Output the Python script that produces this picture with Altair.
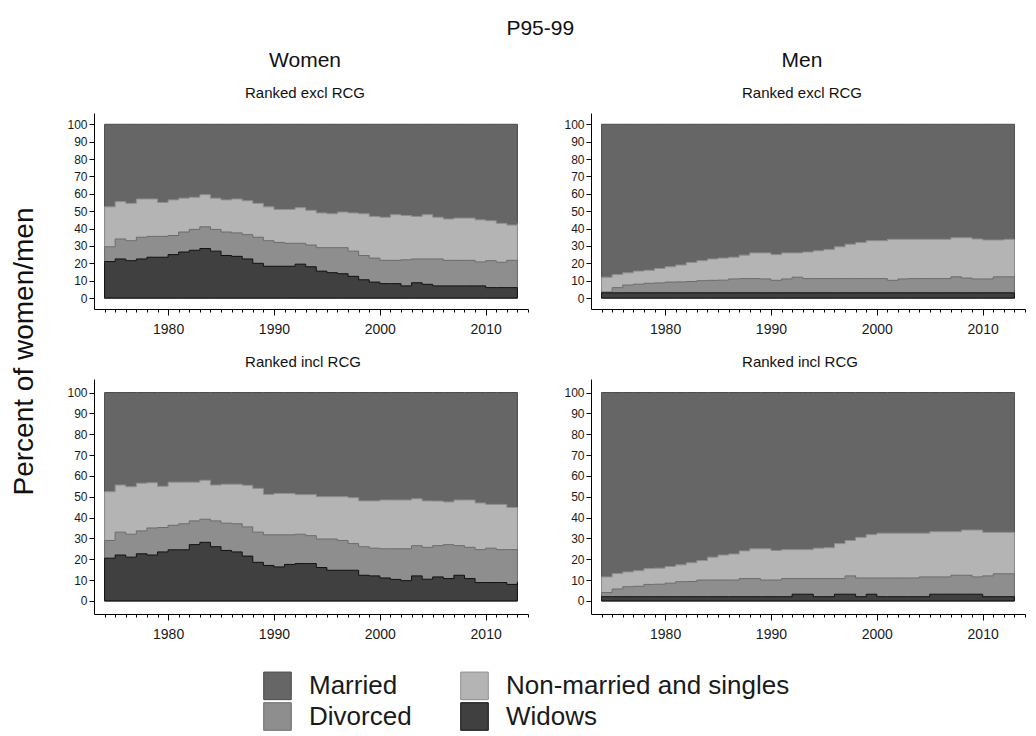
import altair as alt
import pandas as pd

years = list(range(1974, 2014))
categories = ["Married", "Non-married and singles", "Divorced", "Widows"]
legend_order = ["Married", "Divorced", "Non-married and singles", "Widows"]
fill_colors = ["#666666", "#8e8e8e", "#b4b4b4", "#404040"]
line_colors = ["#4a4a4a", "#6c6c6c", "#8f8f8f", "#111111"]

married_top = 100  # shares add up to 100 percent

# Cumulative upper edges (percent), 1974..2013
# Women, ranked excl RCG
w_excl_widows = [21, 22.5, 21.5, 22.5, 23.5, 23.5, 25, 26.5, 27.5, 28.5,
                 27, 24.5, 24, 22.5, 20, 18.3, 18.3, 18.3, 19.5, 18,
                 15.5, 14.6, 14, 12.5, 10.5, 9.2, 8.3, 8.3, 7, 8.8,
                 7.9, 7, 7, 7, 7, 7, 6, 6, 6, 6]
w_excl_divorced = [29.5, 34, 33, 35, 35.5, 35.5, 36, 38, 39.5, 41,
                   39.5, 38, 37.5, 36.5, 35, 33, 32, 31.5, 31.5, 30.5,
                   29, 29, 29, 27, 24.5, 23, 21.7, 21.7, 22, 22.5,
                   22.5, 22.5, 21.7, 21.7, 21.7, 20.8, 21.5, 20.6, 21.7, 21.7]
w_excl_nonmarried = [52.5, 55.5, 54.5, 57, 57, 55, 56.5, 57.5, 58, 59.5,
                     57.5, 56.5, 57, 56, 54.5, 52.5, 51, 51, 52, 50.5,
                     49, 48.5, 49.5, 49, 48.5, 47, 46.5, 48, 47.5, 47,
                     48, 46.5, 45.5, 46, 46, 45, 44.5, 43, 42, 43]

# Men, ranked excl RCG
m_excl_widows = [3, 3, 3, 3, 3, 3, 3, 3, 3, 3,
                 3, 3, 3, 3, 3, 3, 3, 3, 3, 3,
                 3, 3, 3, 3, 3, 3, 3, 3, 3, 3,
                 3, 3, 3, 3, 3, 3, 3, 3, 3, 3]
m_excl_divorced = [3.5, 6, 7.5, 8, 8.5, 8.7, 9.2, 9.3, 9.5, 10,
                   10.2, 10.3, 11, 11.2, 11.2, 11, 10.2, 11, 12, 11.2,
                   11.2, 11.2, 11.2, 11.2, 11.2, 11.2, 11.2, 10.2, 11, 11.2,
                   11.2, 11.2, 11.2, 12.2, 11.5, 11, 11, 12.2, 12.2, 12.2]
m_excl_nonmarried = [12, 13.5, 14.5, 15.5, 16, 17, 18, 19, 20.5, 21.5,
                     22.5, 23, 23.5, 24.7, 26, 26, 25, 26, 26, 26.5,
                     27.2, 28, 29.5, 31, 32, 33, 33, 33.8, 33.8, 33.8,
                     33.8, 33.8, 33.8, 34.7, 34.7, 34, 33.4, 33.4, 33.8, 33]

# Women, ranked incl RCG
w_incl_widows = [20.5, 22, 21, 22.6, 22, 23.5, 24.5, 24.5, 27, 28.1,
                 26, 24.2, 23.5, 21.5, 18.5, 17, 16.3, 17.5, 17.9, 17.9,
                 16, 14.7, 14.7, 14.7, 12.3, 12, 11, 10.3, 9.7, 12,
                 10.4, 11.5, 10.7, 12.3, 10.7, 8.8, 8.8, 8.8, 7.9, 9]
w_incl_divorced = [29, 33, 32, 33.6, 35, 35.2, 36.3, 37, 38.4, 39.2,
                   38.4, 37.3, 37, 35.5, 33, 31.7, 31.7, 31.7, 32, 31.3,
                   29.7, 29.7, 29, 27.5, 26, 25.3, 25, 25, 25, 26.5,
                   25.7, 26.5, 27, 26.5, 25.7, 24.6, 25.3, 24.6, 24.6, 24.6]
w_incl_nonmarried = [52.4, 55.6, 54.8, 56.5, 56.7, 55, 57, 57, 57, 57.9,
                     55.6, 56, 56, 55.5, 54, 51.1, 51.6, 51.6, 51, 51,
                     50, 50, 50, 49.5, 48, 48, 48.4, 48.4, 48.4, 49,
                     48, 47.9, 47.5, 48.4, 48.4, 47, 46.3, 46.3, 44.8, 45]

# Men, ranked incl RCG
m_incl_widows = [2, 2, 2, 2, 2, 2, 2, 2, 2, 2,
                 2, 2, 2, 2, 2, 2, 2, 2, 3.2, 3.2,
                 2, 2, 3.2, 3.2, 2, 3.2, 2, 2, 2, 2,
                 2, 3.2, 3.2, 3.2, 3.2, 3.2, 2, 2, 2, 2]
m_incl_divorced = [4, 5.7, 6.8, 7, 7.9, 8, 8.5, 9.2, 9.3, 10,
                   10, 10, 10, 10.7, 10.7, 10, 10, 10.7, 10.7, 10.7,
                   10.7, 10.7, 10.7, 12, 11, 11, 11, 11, 11, 11,
                   11.5, 11.5, 11.5, 12.3, 12.3, 11.5, 12, 13, 13, 13]
m_incl_nonmarried = [11.5, 13.1, 13.9, 14.5, 15.5, 15.7, 16.5, 17.3, 18.3, 19.4,
                     21, 22, 22.5, 24, 25, 25, 24.2, 24.6, 24.6, 24.6,
                     25.3, 25.5, 27.5, 29, 30.5, 31.8, 32.5, 32.5, 32.5, 32.5,
                     32.5, 33.2, 33.2, 33.2, 34, 34, 32.9, 32.9, 32.9, 32.9]

y_ticks = list(range(0, 101, 10))
x_ticks = list(range(1974, 2015))

FONT = "Liberation Sans"
PANEL_W = 434


def panel_table(widows, divorced, nonmarried):
    rows = []
    for i, yr in enumerate(years):
        rows.append({"year": yr, "cat": "Married", "top": married_top})
        rows.append({"year": yr, "cat": "Non-married and singles", "top": nonmarried[i]})
        rows.append({"year": yr, "cat": "Divorced", "top": divorced[i]})
        rows.append({"year": yr, "cat": "Widows", "top": widows[i]})
    return pd.DataFrame(rows)


x_axis = alt.Axis(
    values=x_ticks,
    labelExpr="datum.value % 10 === 0 ? '' + datum.value : ''",
    tickSize={"condition": {"test": "datum.value % 10 === 0", "value": 6}, "value": 3},
    labelFontSize=14, labelPadding=7, labelOverlap=False, labelFlush=False,
    grid=False, title=None, domainColor="#000000", tickColor="#000000",
    labelColor="#1a1a1a", labelFont=FONT,
)
y_axis = alt.Axis(
    values=y_ticks, tickSize=5, labelFontSize=12, labelPadding=2,
    grid=False, title=None, domainColor="#000000", tickColor="#000000",
    labelColor="#1a1a1a", labelFont=FONT, minExtent=30, maxExtent=30,
)
x_scale = alt.Scale(domain=[1973, 2014], nice=False, zero=False)
y_scale = alt.Scale(domain=[-6.3, 106.5], nice=False, zero=False)
color_scale = alt.Scale(domain=legend_order, range=fill_colors)
stroke_scale = alt.Scale(domain=legend_order, range=line_colors)
legend = alt.Legend(
    orient="none", legendX=169, legendY=558, columns=2,
    symbolType="square", symbolSize=760, symbolStrokeColor="#3a3a3a",
    symbolStrokeWidth=1, symbolOpacity=1,
    labelFontSize=26, labelFont=FONT, labelColor="#1a1a1a", labelOffset=17,
    columnPadding=46, rowPadding=-3, padding=0, labelLimit=400,
)


def panel(widows, divorced, nonmarried, height, title):
    df = panel_table(widows, divorced, nonmarried)
    layers = []
    for cat in categories:
        layers.append(
            alt.Chart(df)
            .transform_filter(alt.datum.cat == cat)
            .mark_area(interpolate="step-after", strokeWidth=1, opacity=1)
            .encode(
                x=alt.X("year:Q", scale=x_scale, axis=x_axis),
                y=alt.Y("top:Q", scale=y_scale, axis=y_axis, stack=None),
                color=alt.Color("cat:N", scale=color_scale, legend=legend, title=None),
                stroke=alt.Stroke("cat:N", scale=stroke_scale, legend=None),
            )
        )
    return alt.layer(*layers).properties(width=PANEL_W, height=height, title=title)


def head(text, sub):
    return alt.TitleParams(
        text=text, subtitle=sub, fontSize=21, subtitleFontSize=15,
        font=FONT, subtitleFont=FONT, fontWeight="normal",
        color="#111111", subtitleColor="#111111",
        anchor="middle", frame="group", offset=12, subtitlePadding=15, dx=-6,
    )


def sub_head(text):
    return alt.TitleParams(
        text=text, fontSize=15, font=FONT, fontWeight="normal",
        color="#111111", anchor="middle", frame="group", offset=9, dx=-8,
    )


top_h = 196
bot_h = 235

p1 = panel(w_excl_widows, w_excl_divorced, w_excl_nonmarried, top_h, head("Women", "Ranked excl RCG"))
p2 = panel(m_excl_widows, m_excl_divorced, m_excl_nonmarried, top_h, head("Men", "Ranked excl RCG"))
p3 = panel(w_incl_widows, w_incl_divorced, w_incl_nonmarried, bot_h, sub_head("Ranked incl RCG"))
p4 = panel(m_incl_widows, m_incl_divorced, m_incl_nonmarried, bot_h, sub_head("Ranked incl RCG"))

top_row = alt.hconcat(p1, p2, spacing=32)
bot_row = alt.hconcat(p3, p4, spacing=32)

inner = alt.vconcat(top_row, bot_row, spacing=19).properties(
    title=alt.TitleParams(
        text="Percent of women/men", orient="left", anchor="middle",
        fontSize=28, font=FONT, fontWeight="normal", color="#111111",
        offset=25, dx=-6,
    )
)

chart = (
    alt.vconcat(inner, spacing=0)
    .properties(
        title=alt.TitleParams(
            text="P95-99", fontSize=21, font=FONT, fontWeight="normal",
            color="#111111", anchor="middle", offset=11, dx=22,
        ),
        padding={"left": 2, "top": 10, "right": 0, "bottom": 0},
    )
    .configure_view(stroke=None)
    .configure_axis(domainWidth=1, tickWidth=1)
)

chart.save("out.html", embed_options={"renderer": "svg", "actions": False})
